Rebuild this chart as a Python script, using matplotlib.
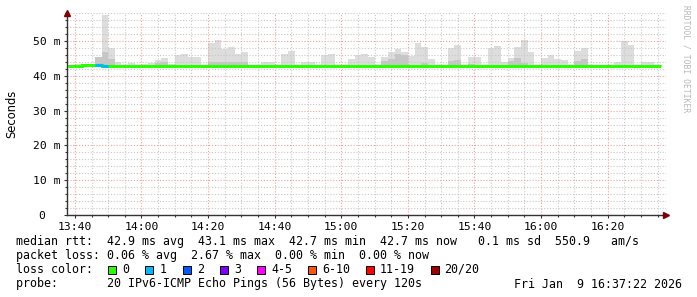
import numpy as np
import matplotlib
matplotlib.use("Agg")
import matplotlib.pyplot as plt
from matplotlib.patches import Rectangle
from matplotlib.ticker import MultipleLocator, FixedLocator

W, H = 697, 297

# 2-minute bins, minutes relative to 13:40 (bin k covers [edges[k], edges[k+1]])
bin_edges = np.arange(-2, 178, 2)
view_start = -2 - 22 / 60.0   # 13:37:22
view_end = 177 + 22 / 60.0    # 16:37:22

# median rtt per bin (ms)
median = [42.9, 42.8, 43.0, 43.0, 43.0, 42.8, 42.8, 42.8, 42.8, 42.9,
          42.9, 42.8, 42.9, 42.9, 42.8, 42.9, 42.9, 42.9, 42.9, 42.7,
          42.8, 42.9, 42.9, 42.9, 42.9, 42.9, 42.9, 42.9, 42.9, 42.8,
          42.8, 42.9, 42.8, 42.8, 42.8, 42.9, 42.9, 42.9, 42.8, 42.8,
          42.9, 42.9, 42.9, 42.9, 42.7, 42.9, 42.8, 42.8, 42.9, 42.9,
          42.7, 42.9, 42.9, 42.9, 42.8, 42.8, 42.9, 42.9, 42.9, 42.9,
          42.9, 42.9, 42.8, 42.9, 42.9, 42.8, 42.8, 42.9, 42.9, 42.9,
          42.9, 42.8, 42.9, 42.9, 42.9, 42.8, 42.8, 42.9, 42.8, 42.8,
          42.8, 42.8, 42.8, 42.8, 42.8, 42.8, 42.8, 42.8, 42.8]

# slowest ping per bin (outer smoke, ms)
smoke_max = [43.1, 43.3, 43.5, 43.5, 45.5, 57.5, 48.1, 43.9, 43.2, 43.7,
             43.1, 43.5, 43.7, 44.5, 45.2, 43.5, 46.0, 46.3, 45.3, 45.4,
             43.1, 49.5, 50.3, 47.8, 48.3, 46.3, 46.8, 43.0, 43.0, 44.1,
             44.1, 43.2, 46.2, 47.1, 43.0, 43.9, 43.9, 43.0, 46.0, 46.3,
             43.0, 43.0, 44.8, 46.0, 46.3, 45.5, 43.2, 45.4, 46.9, 47.8,
             46.9, 45.7, 49.5, 48.4, 44.8, 43.1, 43.1, 48.1, 48.9, 43.0,
             45.5, 45.5, 43.0, 47.9, 48.6, 44.1, 45.2, 48.3, 50.3, 46.9,
             43.2, 45.2, 46.0, 44.8, 44.5, 43.0, 47.1, 48.1, 43.0, 43.0,
             43.0, 43.0, 44.1, 50.0, 48.9, 43.0, 43.9, 43.9, 43.0]

# inner smoke (darker band, ms)
smoke_inner = [43.0, 43.0, 43.0, 43.0, 45.5, 46.9, 44.8, 43.0, 43.0, 43.0,
               43.0, 43.0, 43.0, 43.8, 44.0, 43.0, 43.0, 43.0, 43.0, 43.0,
               43.0, 44.0, 43.9, 44.1, 44.1, 44.0, 44.0, 43.0, 43.0, 43.0,
               43.0, 43.0, 43.0, 43.0, 43.0, 43.0, 43.0, 43.0, 43.0, 43.0,
               43.0, 43.0, 43.0, 43.0, 43.0, 43.0, 43.0, 44.3, 44.8, 46.2,
               46.0, 43.0, 43.0, 43.6, 43.0, 43.0, 43.0, 44.3, 44.5, 43.0,
               43.5, 43.0, 43.0, 43.0, 43.0, 43.0, 44.3, 45.0, 43.8, 43.0,
               43.0, 43.0, 43.0, 43.0, 43.0, 43.0, 44.3, 44.8, 43.0, 43.0,
               43.0, 43.0, 43.0, 43.0, 43.0, 43.0, 43.0, 43.0, 43.0]

# lost pings per bin (of 20)
loss = [0, 0, 0, 0, 1, 1, 0, 0, 0, 0] + [0] * 79
min_rtt = 42.6

y_ticks = [0, 10, 20, 30, 40, 50]
y_labels = ['0  ', '10 m', '20 m', '30 m', '40 m', '50 m']

loss_colors = ['#26ff00', '#00b8ff', '#0059ff', '#7e00ff', '#ff00ff',
               '#ff5500', '#ff0000', '#a00000']
loss_labels = ['0', '1', '2', '3', '4-5', '6-10', '11-19', '20/20']


def loss_color(n):
    if n <= 3:
        return loss_colors[n]
    if n <= 5:
        return loss_colors[4]
    if n <= 10:
        return loss_colors[5]
    if n <= 19:
        return loss_colors[6]
    return loss_colors[7]


def hhmm(m):
    t = 13 * 60 + 40 + int(m)
    return "%02d:%02d" % (t // 60, t % 60)


mono = 'DejaVu Sans Mono'
fig = plt.figure(figsize=(W / 100, H / 100), dpi=100)
ax = fig.add_axes([67 / W, (H - 215) / H, (665.5 - 67) / W, (215 - 13) / H])

# smoke
ax.stairs(smoke_max, bin_edges, baseline=min_rtt, fill=True, color='#dddddd', lw=0, zorder=1)
ax.stairs(smoke_inner, bin_edges, baseline=min_rtt, fill=True, color='#c6c6c6', lw=0, zorder=1.1)

# median line coloured by loss
ax.stairs(median, bin_edges, baseline=None, color=loss_colors[0], lw=2.2, zorder=3)
for k in range(len(median)):
    if loss[k] > 0:
        ax.hlines(median[k], bin_edges[k], bin_edges[k + 1], color=loss_color(loss[k]),
                  lw=2.2, zorder=3.1)

ax.set_xlim(view_start, view_end)
ax.set_ylim(0, 58.05)

x_major = np.arange(0, 161, 20)
ax.xaxis.set_major_locator(FixedLocator(x_major))
ax.xaxis.set_minor_locator(MultipleLocator(5))
ax.set_xticklabels([hhmm(m) for m in x_major])
ax.yaxis.set_major_locator(FixedLocator(y_ticks))
ax.yaxis.set_minor_locator(MultipleLocator(2))
ax.set_yticklabels(y_labels)

ax.set_axisbelow(False)
ax.grid(which='minor', color='#c8c8c8', lw=0.8, linestyle=(0, (1, 1.6)), zorder=2)
ax.grid(which='major', color='#f0a0a0', lw=0.8, linestyle=(0, (1, 1.6)), zorder=2.2)

for s in ['top', 'right']:
    ax.spines[s].set_visible(False)
for s in ['left', 'bottom']:
    ax.spines[s].set_color('#333333')
    ax.spines[s].set_linewidth(1.0)
    ax.spines[s].set_zorder(4)

ax.tick_params(which='major', direction='out', length=2.5, width=0.8, color='#333333',
               labelsize=8.2, pad=2.5)
ax.tick_params(which='minor', direction='out', length=1.5, width=0.8, color='#333333')
for lab in ax.get_xticklabels() + ax.get_yticklabels():
    lab.set_family(mono)

ax.set_ylabel('Seconds', family='DejaVu Sans', fontsize=8.3, labelpad=10)

# axis arrows
ax.plot([0], [1.0], marker='^', color='#800000', markersize=4, transform=ax.transAxes,
        clip_on=False, zorder=5)
ax.plot([1.0], [0], marker='>', color='#800000', markersize=4, transform=ax.transAxes,
        clip_on=False, zorder=5)

fig.text(686 / W, 1 - 5 / H, 'RRDTOOL / TOBI OETIKER', rotation=270, family=mono,
         fontsize=5.8, color='#b8b8b8', ha='center', va='top')


def put(x, y, s, **kw):
    fig.text(x / W, 1 - y / H, s, family=mono, fontsize=8.4, va='center', **kw)


put(16, 241, 'median rtt:  42.9 ms avg  43.1 ms max  42.7 ms min  42.7 ms now   0.1 ms sd  550.9   am/s')
put(16, 255.5, 'packet loss: 0.06 % avg  2.67 % max  0.00 % min  0.00 % now')
put(16, 269.5, 'loss color:')
box_x = [108, 145.3, 182.7, 220, 257.3, 308, 366, 430.5]
for bx, col, lab in zip(box_x, loss_colors, loss_labels):
    fig.add_artist(Rectangle((bx / W, 1 - 274 / H), 8 / W, 8 / H, transform=fig.transFigure,
                             facecolor=col, edgecolor='black', lw=0.7))
    put(bx + 14, 269.5, lab)
put(16, 284, 'probe:       20 IPv6-ICMP Echo Pings (56 Bytes) every 120s')
put(682, 284, 'Fri Jan  9 16:37:22 2026', ha='right')

fig.savefig('out.png', dpi=100)
